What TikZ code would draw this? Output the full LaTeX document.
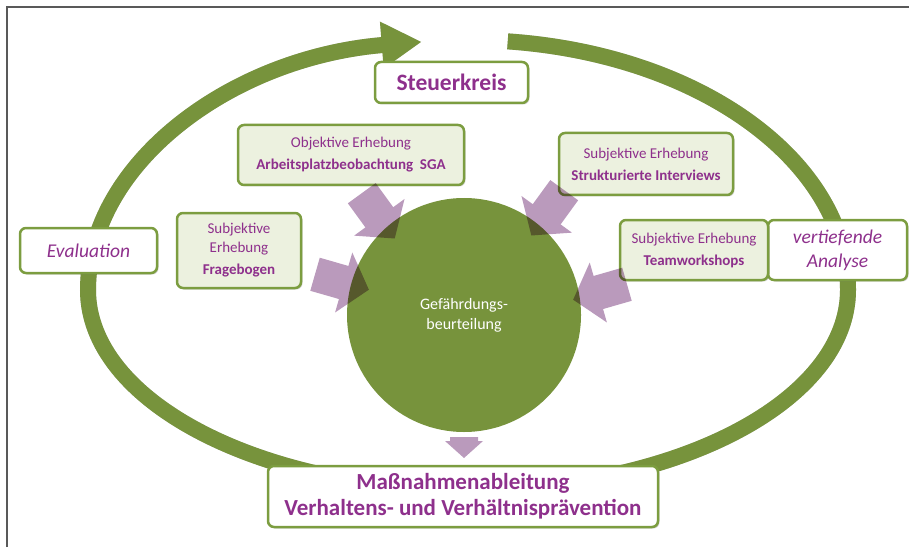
\documentclass[tikz,border=0pt]{standalone}
\usepackage{fontspec}
\setmainfont{Carlito}
\usepackage{xcolor}
\usepackage{tikz}
\usetikzlibrary{shapes.arrows, arrows.meta, shadows, positioning}

\definecolor{ringgreen}{RGB}{119,147,60}
\definecolor{boxgreen}{RGB}{124,157,64}
\definecolor{lilatext}{RGB}{142,48,140}
\definecolor{lightgreen}{RGB}{236,241,223}
\definecolor{mauve}{RGB}{186,154,188}

\newcommand{\ringpath}{(loopc) ++(84:380 and 250)
    arc[start angle=84, end angle=0, x radius=380, y radius=250]
    arc[start angle=0, end angle=-180, x radius=380, y radius=200]
    arc[start angle=180, end angle=97, x radius=380, y radius=250]}

\tikzset{
  outerbox/.style={draw=boxgreen, line width=2.5pt, rounded corners=6pt, fill=white,
    text=lilatext, align=center, inner sep=0pt,
    drop shadow={black!60, opacity=0.25, shadow xshift=1.5pt, shadow yshift=-1.5pt}},
  innerbox/.style={outerbox, fill=lightgreen, font=\fontsize{15}{22}\selectfont},
  pushing/.style={single arrow, fill=mauve, blend mode=multiply, inner xsep=0pt,
    inner ysep=17pt, minimum height=56pt, single arrow head extend=14pt,
    single arrow tip angle=100},
  ringline/.style={line width=16pt, -{Triangle[width=44pt,length=40pt]}}
}

\begin{document}
\begin{tikzpicture}[x=1pt, y=1pt]
    \useasboundingbox (0,0) rectangle (909,547);

    % Frame
    \draw[line width=2pt, black!65] (7,0) -- (7,540) -- (909,540);

    % Loop with shadow
    \coordinate (loopc) at (468,257);
    \draw[ringline, black!18, shift={(3,-3)}] \ringpath;
    \draw[ringline, ringgreen] \ringpath;

    % Centre
    \node[circle, fill=ringgreen, minimum size=234pt, inner sep=0pt, text=white,
          align=center, font=\fontsize{16}{20}\selectfont] (gb) at (464,232)
          {Gef\"ahrdungs-\\beurteilung};

    % Outer boxes
    \node[outerbox, minimum width=153pt, minimum height=41pt,
          font=\bfseries\fontsize{23.5}{27}\selectfont] (steuer) at (451.5,464.5) {Steuerkreis};
    \node[outerbox, minimum width=137pt, minimum height=45pt,
          font=\itshape\fontsize{19.5}{24}\selectfont] (eval) at (88.5,296.5) {Evaluation};
    \node[outerbox, minimum width=139pt, minimum height=60pt,
          font=\itshape\fontsize{19.5}{24}\selectfont] (analyse) at (837.5,297) {vertiefende\\Analyse};
    \node[outerbox, minimum width=390pt, minimum height=61pt,
          font=\bfseries\fontsize{23}{26}\selectfont] (massnahme) at (463,50.5)
          {Ma\ss{}nahmenableitung\\Verhaltens- und Verh\"altnispr\"avention};

    % Survey boxes
    \node[innerbox, minimum width=226pt, minimum height=60pt] (objektiv) at (351,392)
          {Objektive Erhebung\\\textbf{Arbeitsplatzbeobachtung~~SGA}};
    \node[innerbox, minimum width=174pt, minimum height=62pt] (interview) at (646,383)
          {Subjektive Erhebung\\\textbf{Strukturierte Interviews}};
    \node[innerbox, minimum width=124pt, minimum height=75pt] (frage) at (239,296.5)
          {Subjektive\\[-3pt]Erhebung\\\textbf{Fragebogen}};
    \node[innerbox, minimum width=148pt, minimum height=60pt] (team) at (694,297)
          {Subjektive Erhebung\\\textbf{Teamworkshops}};

    % Block arrows into the centre
    \node[pushing, rotate=-54] (p1) at (374,337) {};
    \node[pushing, rotate=-16] (p2) at (335,267) {};
    \node[pushing, rotate=-126] (p3) at (552,340) {};
    \node[pushing, rotate=-164] (p4) at (607,257) {};

    % Small arrow down to the measures
    \coordinate (ptip) at (464,89);
    \fill[mauve] (450,110) -- (478,110) -- (478,106) -- (483,106) -- (ptip)
        -- (445,106) -- (450,106) -- cycle;
\end{tikzpicture}
\end{document}
